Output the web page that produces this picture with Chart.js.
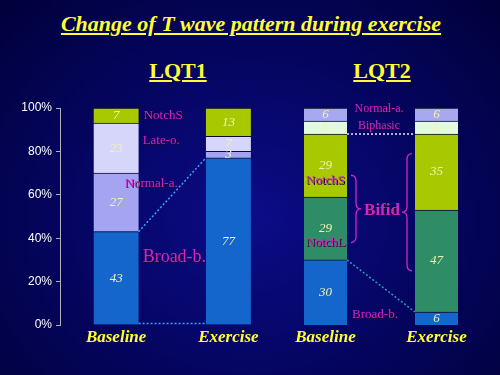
<!DOCTYPE html>
<html>
<head>
<meta charset="utf-8">
<script src="https://cdn.jsdelivr.net/npm/chart.js@4"></script>
<style>
  html, body { margin: 0; padding: 0; }
  body {
    width: 500px; height: 375px; overflow: hidden; position: relative;
    background: radial-gradient(ellipse at 50% 58%, #0c0c88 0%, #06066a 40%, #00003a 100%);
    font-family: "Liberation Serif", "Times New Roman", serif;
  }
  .head { position: absolute; color: #ffff33; font-weight: bold; text-decoration: underline; white-space: nowrap; transform: translateX(-50%); }
  #title { left: 251px; top: 11px; font-size: 22px; font-style: italic; }
  #lqt1 { left: 178px; top: 58px; font-size: 22px; }
  #lqt2 { left: 382px; top: 58px; font-size: 22px; }
  canvas { position: absolute; }
  #chart1wrap { position: absolute; left: 0; top: 95px; width: 290px; height: 260px; }
  #chart2wrap { position: absolute; left: 262px; top: 95px; width: 238px; height: 260px; }
</style>
</head>
<body>
<div id="title" class="head">Change of T wave pattern during exercise</div>
<div id="lqt1" class="head">LQT1</div>
<div id="lqt2" class="head">LQT2</div>
<div id="chart1wrap"><canvas id="chart1"></canvas></div>
<div id="chart2wrap"><canvas id="chart2"></canvas></div>
<script>
// categories
const groups = ['Baseline', 'Exercise'];

// LQT1 (%), bottom to top
const lqt1BroadB = [43, 77];
const lqt1NormalA = [27, 3];
const lqt1LateO = [23, 7];
const lqt1NotchS = [7, 13];

// LQT2 (%), bottom to top
const lqt2BroadB = [30, 6];
const lqt2NotchL = [29, 47];
const lqt2NotchS = [29, 35];
const lqt2Biphasic = [6, 6];
const lqt2NormalA = [6, 6];

const MAGENTA = '#d424c8';
const SERIF = '"Liberation Serif", "Times New Roman", serif';

// values inside each segment
function drawValues(chart) {
  const ctx = chart.ctx;
  ctx.save();
  ctx.font = 'italic 13px ' + SERIF;
  ctx.fillStyle = '#f2f2b0';
  ctx.textAlign = 'center';
  ctx.textBaseline = 'middle';
  chart.data.datasets.forEach((ds, i) => {
    chart.getDatasetMeta(i).data.forEach((bar, j) => {
      ctx.fillText(String(ds.data[j]), bar.x, (bar.y + bar.base) / 2);
    });
  });
  ctx.restore();
}

function dotted(ctx, x1, y1, x2, y2, color) {
  ctx.save();
  ctx.strokeStyle = color;
  ctx.lineWidth = 1.5;
  ctx.setLineDash([2, 2]);
  ctx.beginPath();
  ctx.moveTo(x1, y1);
  ctx.lineTo(x2, y2);
  ctx.stroke();
  ctx.restore();
}

function label(ctx, text, x, y, size, align, bold) {
  ctx.save();
  ctx.font = (bold ? 'bold ' : '') + size + 'px ' + SERIF;
  ctx.textAlign = align;
  ctx.textBaseline = 'middle';
  ctx.shadowColor = '#2a002a';
  ctx.shadowOffsetX = 1;
  ctx.shadowOffsetY = 1;
  ctx.fillStyle = MAGENTA;
  ctx.fillText(text, x, y);
  ctx.restore();
}

// curly brace, dir = 1 opens left ("}"), dir = -1 opens right ("{")
function brace(ctx, x, yTop, yBot, dir) {
  const w = 5 * dir, mid = (yTop + yBot) / 2;
  ctx.save();
  ctx.strokeStyle = MAGENTA;
  ctx.lineWidth = 1.3;
  ctx.beginPath();
  ctx.moveTo(x - w, yTop);
  ctx.quadraticCurveTo(x, yTop, x, yTop + 6);
  ctx.lineTo(x, mid - 6);
  ctx.quadraticCurveTo(x, mid, x + w, mid);
  ctx.quadraticCurveTo(x, mid, x, mid + 6);
  ctx.lineTo(x, yBot - 6);
  ctx.quadraticCurveTo(x, yBot, x - w, yBot);
  ctx.stroke();
  ctx.restore();
}

const lqt1Notes = {
  id: 'lqt1Notes',
  afterDatasetsDraw(chart) {
    const ctx = chart.ctx, y = chart.scales.y;
    const bars = chart.getDatasetMeta(0).data;
    const b = bars[0], e = bars[1];
    const bRight = b.x + b.width / 2, eLeft = e.x - e.width / 2;
    dotted(ctx, bRight, b.y, eLeft, e.y, '#3aa4ff');
    dotted(ctx, bRight, b.base - 1, eLeft, e.base - 1, '#3aa4ff');
    drawValues(chart);
    label(ctx, 'NotchS', bRight + 5, y.getPixelForValue(96.3), 13, 'left');
    label(ctx, 'Late-o.', bRight + 4, y.getPixelForValue(85), 13, 'left');
    label(ctx, 'Normal-a.', bRight - 14, y.getPixelForValue(65.4), 13, 'left');
    label(ctx, 'Broad-b.', bRight + 4, y.getPixelForValue(31), 18, 'left');
  }
};

const lqt2Notes = {
  id: 'lqt2Notes',
  afterDatasetsDraw(chart) {
    const ctx = chart.ctx, y = chart.scales.y;
    const bars = chart.getDatasetMeta(0).data;
    const b = bars[0], e = bars[1];
    const bRight = b.x + b.width / 2, eLeft = e.x - e.width / 2;
    const mid = (bRight + eLeft) / 2;
    const top = chart.getDatasetMeta(2).data;
    dotted(ctx, bRight, top[0].y, eLeft, top[1].y, '#e8e8ff');
    dotted(ctx, bRight, b.y, eLeft, e.y, '#2e9ab8');
    drawValues(chart);
    label(ctx, 'Normal-a.', mid - 2, y.getPixelForValue(99.5), 12, 'center');
    label(ctx, 'Biphasic', mid - 2, y.getPixelForValue(92), 12, 'center');
    label(ctx, 'NotchS', b.x, y.getPixelForValue(66.5), 13, 'center');
    label(ctx, 'NotchL', b.x, y.getPixelForValue(38), 13, 'center');
    label(ctx, 'Broad-b.', mid - 6, y.getPixelForValue(5), 13, 'center');
    label(ctx, 'Bifid', mid + 1, y.getPixelForValue(52.5), 17, 'center', true);
    brace(ctx, bRight + 9, y.getPixelForValue(69), y.getPixelForValue(38), 1);
    brace(ctx, eLeft - 8, y.getPixelForValue(79), y.getPixelForValue(25), -1);
  }
};

function makeDataset(data, color, thickness) {
  return {
    data: data,
    backgroundColor: color,
    borderColor: '#0a0a30',
    borderWidth: { top: 1, bottom: 0, left: 0, right: 0 },
    borderSkipped: false,
    barThickness: thickness
  };
}

function xScale() {
  return {
    stacked: true,
    grid: { display: false, drawTicks: false },
    border: { display: false },
    ticks: {
      color: '#ffff33',
      padding: 2,
      font: { family: SERIF, size: 17, style: 'italic', weight: 'bold' }
    },
    afterFit: (s) => { s.height = 30; }
  };
}

new Chart(document.getElementById('chart1'), {
  type: 'bar',
  data: {
    labels: groups,
    datasets: [
      makeDataset(lqt1BroadB, '#1466cc', 45),
      makeDataset(lqt1NormalA, '#a4a4f2', 45),
      makeDataset(lqt1LateO, '#d6d6fa', 45),
      makeDataset(lqt1NotchS, '#a8c800', 45)
    ]
  },
  options: {
    responsive: true,
    maintainAspectRatio: false,
    animation: false,
    layout: { padding: { top: 13, right: 5.5, bottom: 0, left: 0 } },
    plugins: { legend: { display: false }, tooltip: { enabled: false } },
    scales: {
      x: xScale(),
      y: {
        stacked: true,
        min: 0,
        max: 100,
        ticks: {
          stepSize: 20,
          color: '#ffffff',
          padding: 4,
          font: { family: '"Liberation Sans", Arial, sans-serif', size: 12 },
          callback: (v) => v + '%'
        },
        grid: { drawOnChartArea: false, color: '#b0b0c0', tickLength: 4 },
        border: { color: '#b0b0c0' },
        afterFit: (s) => { s.width = 60; }
      }
    }
  },
  plugins: [lqt1Notes]
});

new Chart(document.getElementById('chart2'), {
  type: 'bar',
  data: {
    labels: groups,
    datasets: [
      makeDataset(lqt2BroadB, '#1466cc', 43),
      makeDataset(lqt2NotchL, '#2e8c66', 43),
      makeDataset(lqt2NotchS, '#a8c800', 43),
      makeDataset(lqt2Biphasic, '#e2fae2', 43),
      makeDataset(lqt2NormalA, '#a8a8f0', 43)
    ]
  },
  options: {
    responsive: true,
    maintainAspectRatio: false,
    animation: false,
    layout: { padding: { top: 13, right: 8, bottom: 0, left: 8 } },
    plugins: { legend: { display: false }, tooltip: { enabled: false } },
    scales: {
      x: xScale(),
      y: { stacked: true, min: 0, max: 100, display: false }
    }
  },
  plugins: [lqt2Notes]
});
</script>
</body>
</html>
